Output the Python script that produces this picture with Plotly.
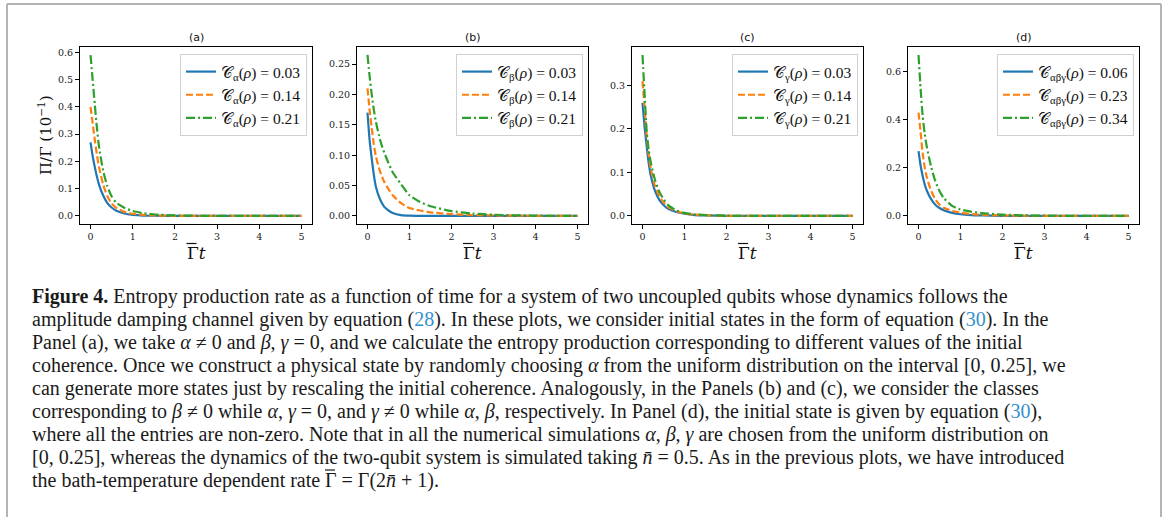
import plotly.graph_objects as go

W, H = 1165, 517

# ---------------- data ----------------
t = [0, 0.05, 0.1, 0.15, 0.2, 0.3, 0.4, 0.5, 0.6, 0.8, 1.0, 1.25, 1.5, 2, 2.5, 3, 4, 5]

a_blue   = [0.27, 0.22, 0.18, 0.145, 0.115, 0.075, 0.047, 0.031, 0.02, 0.009, 0.004, 0.0015, 0.0007, 0.0002, 0.0001, 0, 0, 0]
a_orange = [0.40, 0.34, 0.28, 0.225, 0.18, 0.115, 0.072, 0.046, 0.031, 0.015, 0.008, 0.004, 0.002, 0.0006, 0.0002, 0.0001, 0, 0]
a_green  = [0.59, 0.50, 0.41, 0.325, 0.255, 0.165, 0.108, 0.072, 0.05, 0.03, 0.018, 0.01, 0.006, 0.002, 0.0008, 0.0003, 0.0001, 0]

b_blue   = [0.17, 0.125, 0.095, 0.068, 0.048, 0.027, 0.015, 0.009, 0.005, 0.0015, 0.0005, 0.0002, 0.0001, 0, 0, 0, 0, 0]
b_orange = [0.21, 0.175, 0.145, 0.118, 0.098, 0.073, 0.056, 0.044, 0.034, 0.021, 0.013, 0.009, 0.006, 0.003, 0.0015, 0.0008, 0.0002, 0]
b_green  = [0.265, 0.23, 0.20, 0.175, 0.155, 0.125, 0.104, 0.087, 0.072, 0.052, 0.034, 0.023, 0.016, 0.008, 0.004, 0.002, 0.0005, 0.0001]

c_blue   = [0.26, 0.205, 0.16, 0.12, 0.092, 0.057, 0.037, 0.025, 0.017, 0.009, 0.005, 0.002, 0.001, 0.0003, 0, 0, 0, 0]
c_orange = [0.31, 0.25, 0.185, 0.14, 0.108, 0.068, 0.046, 0.031, 0.021, 0.011, 0.006, 0.003, 0.0015, 0.0004, 0.0001, 0.0001, 0, 0]
c_green  = [0.37, 0.28, 0.195, 0.15, 0.122, 0.082, 0.056, 0.039, 0.026, 0.013, 0.007, 0.0035, 0.002, 0.0006, 0.0002, 0.0001, 0, 0]

d_blue   = [0.27, 0.21, 0.165, 0.13, 0.105, 0.07, 0.047, 0.033, 0.024, 0.013, 0.007, 0.0035, 0.002, 0.0006, 0.0002, 0.0001, 0, 0]
d_orange = [0.43, 0.35, 0.26, 0.20, 0.16, 0.105, 0.07, 0.047, 0.034, 0.021, 0.014, 0.008, 0.005, 0.002, 0.0008, 0.0003, 0.0001, 0]
d_green  = [0.67, 0.53, 0.415, 0.34, 0.285, 0.205, 0.145, 0.104, 0.075, 0.042, 0.027, 0.018, 0.012, 0.0055, 0.0025, 0.0012, 0.0003, 0.0001]

panel_titles = ["(a)", "(b)", "(c)", "(d)"]
subs = ["α", "β", "γ", "αβγ"]
coh_values = [["0.03", "0.14", "0.21"],
              ["0.03", "0.14", "0.21"],
              ["0.03", "0.14", "0.21"],
              ["0.06", "0.23", "0.34"]]
panels = [[a_blue, a_orange, a_green],
          [b_blue, b_orange, b_green],
          [c_blue, c_orange, c_green],
          [d_blue, d_orange, d_green]]

y_ranges = [[-0.0295, 0.6195], [-0.01325, 0.278], [-0.0185, 0.3885], [-0.0335, 0.7035]]
y_ticks = [[0, 0.1, 0.2, 0.3, 0.4, 0.5, 0.6],
           [0, 0.05, 0.10, 0.15, 0.20, 0.25],
           [0, 0.1, 0.2, 0.3],
           [0, 0.2, 0.4, 0.6]]
y_fmt = [".1f", ".2f", ".1f", ".1f"]
x_ticks = [0, 1, 2, 3, 4, 5]

# ---------------- styling ----------------
colors = ["#1f77b4", "#ff7f0e", "#2ca02c"]
dashes = ["solid", "7px,3px", "9px,3px,2px,3px"]
serif = "DejaVu Serif"
cap_font = "Liberation Serif"

ax_px = [(80, 312), (357, 588), (632, 863), (908, 1139)]
ay_px = (47, 224)

def px(x):
    return x / W

def py(y):
    return 1 - y / H

fig = go.Figure()
layout = dict(
    width=W, height=H,
    margin=dict(l=0, r=0, t=0, b=0),
    paper_bgcolor="white", plot_bgcolor="white",
    showlegend=True,
)

annotations = []
shapes = []
for i in range(4):
    xa = "x" if i == 0 else f"x{i+1}"
    ya = "y" if i == 0 else f"y{i+1}"
    lg = "legend" if i == 0 else f"legend{i+1}"
    for j in range(3):
        fig.add_trace(go.Scatter(
            x=t, y=panels[i][j], mode="lines",
            line=dict(color=colors[j], width=2.2, dash=dashes[j], shape="spline", smoothing=0.6),
            name=f"𝒞<sub>{subs[i]}</sub>(<i>ρ</i>) = {coh_values[i][j]}",
            xaxis=xa, yaxis=ya, legend=lg,
        ))
    x0, x1 = ax_px[i]
    axis_common = dict(showgrid=False, zeroline=False, showline=True, linecolor="black",
                       linewidth=1, mirror=True, ticks="outside", ticklen=4, tickwidth=1,
                       tickcolor="black", tickfont=dict(family=serif, size=9.5, color="#222"))
    layout["xaxis" if i == 0 else f"xaxis{i+1}"] = dict(
        domain=[px(x0), px(x1)], anchor=ya, range=[-0.25, 5.25],
        tickvals=x_ticks, ticktext=[str(v) for v in x_ticks], **axis_common)
    layout["yaxis" if i == 0 else f"yaxis{i+1}"] = dict(
        domain=[py(ay_px[1]), py(ay_px[0])], anchor=xa, range=y_ranges[i],
        tickvals=y_ticks[i], tickformat=y_fmt[i], **axis_common)
    layout[lg] = dict(
        x=px(x1 - 5), xanchor="right", y=py(ay_px[0] + 7), yanchor="top",
        xref="paper", yref="paper",
        bgcolor="rgba(255,255,255,0.85)", bordercolor="#d0d0d0", borderwidth=1,
        font=dict(family="Liberation Serif", size=15.5, color="#111"),
        itemwidth=30, tracegroupgap=0,
    )
    cx = (x0 + x1) / 2
    annotations.append(dict(x=px(cx), y=py(38), xref="paper", yref="paper",
                            text=panel_titles[i], showarrow=False, xanchor="center", yanchor="middle",
                            font=dict(family="DejaVu Sans", size=11, color="#111")))
    annotations.append(dict(x=px(cx), y=py(253), xref="paper", yref="paper",
                            text="Γ<i>t</i>", showarrow=False, xanchor="center", yanchor="middle",
                            font=dict(family=serif, size=17, color="#111")))
    # overbar on Gamma
    shapes.append(dict(type="line", xref="paper", yref="paper",
                       x0=px(cx - 9.5), x1=px(cx + 0.5), y0=py(243.5), y1=py(243.5),
                       line=dict(color="#111", width=1.2)))

annotations.append(dict(x=px(45), y=py(135), xref="paper", yref="paper", textangle=-90,
                        text="Π/Γ (10<sup>−1</sup>)", showarrow=False, xanchor="center", yanchor="middle",
                        font=dict(family=serif, size=15, color="#111")))

link = "#3391cf"
caption_lines = [
    "<b>Figure 4.</b> Entropy production rate as a function of time for a system of two uncoupled qubits whose dynamics follows the",
    f"amplitude damping channel given by equation (<span style='color:{link}'>28</span>). In these plots, we consider initial states in the form of equation (<span style='color:{link}'>30</span>). In the",
    "Panel (a), we take <i>α</i> ≠ 0 and <i>β</i>, <i>γ</i> = 0, and we calculate the entropy production corresponding to different values of the initial",
    "coherence. Once we construct a physical state by randomly choosing <i>α</i> from the uniform distribution on the interval [0, 0.25], we",
    "can generate more states just by rescaling the initial coherence. Analogously, in the Panels (b) and (c), we consider the classes",
    "corresponding to <i>β</i> ≠ 0 while <i>α</i>, <i>γ</i> = 0, and <i>γ</i> ≠ 0 while <i>α</i>, <i>β</i>, respectively. In Panel (d), the initial state is given by equation (<span style='color:" + link + "'>30</span>),",
    "where all the entries are non-zero. Note that in all the numerical simulations <i>α</i>, <i>β</i>, <i>γ</i> are chosen from the uniform distribution on",
    "[0, 0.25], whereas the dynamics of the two-qubit system is simulated taking <i>n̄</i> = 0.5. As in the previous plots, we have introduced",
    "the bath-temperature dependent rate",
]
cap_size = 20
for k, line in enumerate(caption_lines):
    annotations.append(dict(x=px(30), y=py(296 + k * 23), xref="paper", yref="paper",
                            text=line, showarrow=False, xanchor="left", yanchor="middle",
                            font=dict(family=cap_font, size=cap_size, color="#1a1a1a")))
# tail of last caption line (Gamma-bar written with a drawn overbar)
last_y = 296 + 8 * 23
tail_x = 323
annotations.append(dict(x=px(tail_x), y=py(last_y), xref="paper", yref="paper",
                        text="Γ = Γ(2<i>n̄</i> + 1).", showarrow=False, xanchor="left", yanchor="middle",
                        font=dict(family=cap_font, size=cap_size, color="#1a1a1a")))
shapes.append(dict(type="line", xref="paper", yref="paper",
                   x0=px(tail_x + 2), x1=px(tail_x + 12), y0=py(last_y - 10), y1=py(last_y - 10),
                   line=dict(color="#1a1a1a", width=1.2)))

layout["annotations"] = annotations
shapes += [
    dict(type="line", xref="paper", yref="paper", x0=px(7), x1=px(7), y0=0, y1=py(4),
         line=dict(color="#b4b4b4", width=2)),
    dict(type="line", xref="paper", yref="paper", x0=px(7), x1=px(1161), y0=py(4), y1=py(4),
         line=dict(color="#b4b4b4", width=2)),
    dict(type="line", xref="paper", yref="paper", x0=px(1161), x1=px(1161), y0=0, y1=py(4),
         line=dict(color="#b4b4b4", width=2)),
]
layout["shapes"] = shapes
fig.update_layout(**layout)
fig.write_html("out.html")
